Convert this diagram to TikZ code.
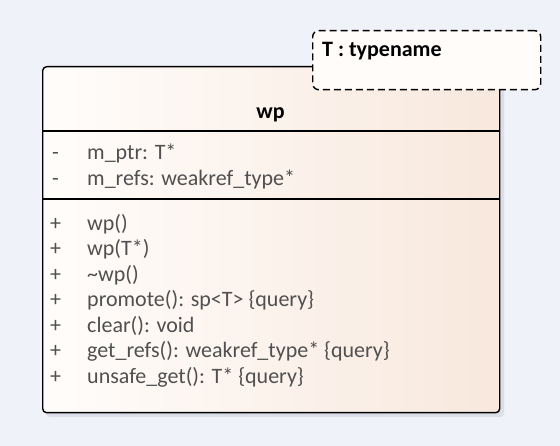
\documentclass[tikz,border=0pt]{standalone}
\usepackage{fontspec}
\setmainfont{Carlito}
\definecolor{bgc}{HTML}{EFF2F9}
\definecolor{shadowc}{HTML}{DCDFE7}
\definecolor{fillL}{HTML}{FFFDFB}
\definecolor{fillR}{HTML}{F8E8DD}
\definecolor{notefill}{HTML}{FFFCFA}
\definecolor{memc}{HTML}{505050}
\tikzset{
  classbox/.style={draw=black, line width=1.4pt, rounded corners=4pt, left color=fillL, right color=fillR, inner sep=0pt, anchor=north west},
  notebox/.style={draw=black, line width=1.4pt, dash pattern=on 7pt off 4pt, rounded corners=6pt, fill=notefill, inner sep=0pt, anchor=north west},
  sepline/.style={draw=black, line width=1.4pt},
  memtext/.style={anchor=base west, inner sep=0pt, text=memc, font=\fontsize{22}{26}\selectfont},
  titletext/.style={anchor=base, inner sep=0pt, font=\fontsize{22}{26}\selectfont\bfseries},
  notetext/.style={anchor=base west, inner sep=0pt, font=\fontsize{22}{26}\selectfont\bfseries},
}
\begin{document}
\begin{tikzpicture}[x=1pt,y=-1pt]
\useasboundingbox[fill=bgc] (0,0) rectangle (560,446);
\fill[shadowc, rounded corners=4pt] (46,71) rectangle (504,417);
\node[classbox, minimum width=457pt, minimum height=346pt] (cls) at (42,66) {};
\coordinate (s1) at (0,131);
\coordinate (s2) at (0,199);
\draw[sepline] (cls.west |- s1) -- (cls.east |- s1);
\draw[sepline] (cls.west |- s2) -- (cls.east |- s2);
\node[titletext] (title) at (270.5,119) {wp};
% attributes
\node[memtext] (a1v) at (52,160) {-};
\node[memtext] (a1) at (87,160) {m\_ptr: T*};
\node[memtext] (a2v) at (52,185.5) {-};
\node[memtext] (a2) at (87,185.5) {m\_refs: weakref\_type*};
% operations
\node[memtext] (o1v) at (50,230.5) {+};
\node[memtext] (o1) at (87,230.5) {wp()};
\node[memtext] (o2v) at (50,256) {+};
\node[memtext] (o2) at (87,256) {wp(T*)};
\node[memtext] (o3v) at (50,281.5) {+};
\node[memtext] (o3) at (87,281.5) {\char`~wp()};
\node[memtext] (o4v) at (50,307) {+};
\node[memtext] (o4) at (87,307) {promote(): sp<T> \{query\}};
\node[memtext] (o5v) at (50,332.5) {+};
\node[memtext] (o5) at (87,332.5) {clear(): void};
\node[memtext] (o6v) at (50,358) {+};
\node[memtext] (o6) at (87,358) {get\_refs(): weakref\_type* \{query\}};
\node[memtext] (o7v) at (50,383.5) {+};
\node[memtext] (o7) at (87,383.5) {unsafe\_get(): T* \{query\}};
% template parameter
\node[notebox, minimum width=228pt, minimum height=59pt] (tmpl) at (312,30) {};
\node[notetext] (tt) at (322,56.7) {T : typename};
\end{tikzpicture}
\end{document}
